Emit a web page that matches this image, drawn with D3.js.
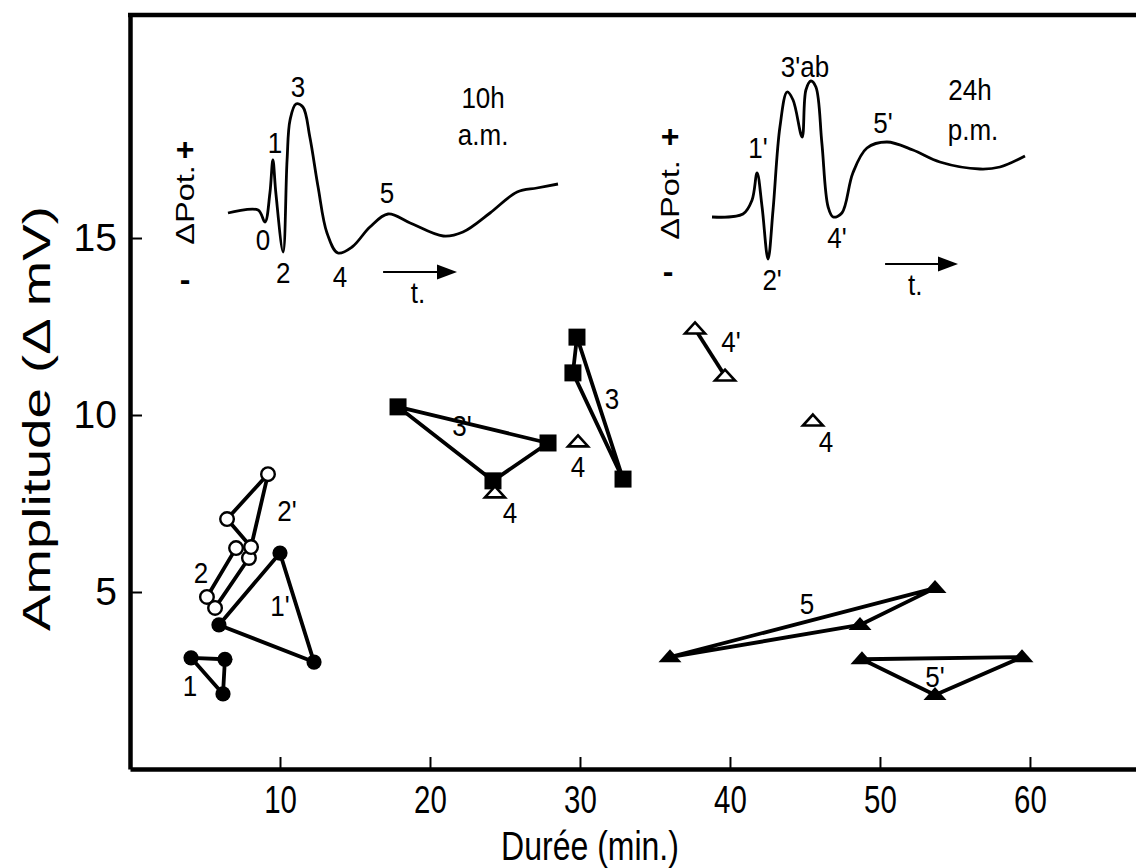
<!DOCTYPE html>
<html>
<head>
<meta charset="utf-8">
<script src="https://cdn.jsdelivr.net/npm/d3@7"></script>
<style>
  html, body { margin: 0; padding: 0; background: #fff; }
  svg { display: block; }
  text { font-family: "Liberation Sans", Arial, Helvetica, sans-serif; fill: #000; }
</style>
</head>
<body>
<svg id="chart" width="1136" height="868"></svg>
<script>
// ---------------- DATA ----------------
const xTicks = [10, 20, 30, 40, 50, 60];
const yTicks = [5, 10, 15];
const xLabel = "Durée (min.)";
const yLabel = "Amplitude (\u0394 mV)";

// groups: [durée (min), amplitude (mV)]
const g1  = [[4.07, 3.14], [6.33, 3.10], [6.20, 2.12]];           // filled circles "1"
const g1p = [[5.93, 4.07], [10.0, 6.10], [12.27, 3.02]];          // filled circles "1'"
const g2  = [[7.07, 6.24], [5.13, 4.86], [5.67, 4.55], [7.93, 5.96]]; // open circles "2"
const g2p = [[9.20, 8.33], [6.47, 7.06], [8.07, 6.27]];           // open circles "2'"
const g3p = [[17.87, 10.23], [27.87, 9.21], [24.20, 8.14]];       // squares "3'"
const g3  = [[29.80, 12.20], [29.53, 11.19], [32.87, 8.19]];      // squares "3"
const g4  = [[29.87, 9.24], [24.33, 7.80], [45.53, 9.83]];        // open triangles "4"
const g4p = [[37.67, 12.43], [39.67, 11.10]];                     // open triangles "4'"
const g5  = [[53.67, 5.11], [48.67, 4.07], [36.00, 3.16]];        // filled triangles "5"
const g5p = [[48.80, 3.10], [59.47, 3.16], [53.67, 2.09]];        // filled triangles "5'"

// group labels: [text, durée, amplitude]
const groupLabels = [
  ["1", 4.0, 2.37], ["1'", 10.0, 4.63], ["2", 4.73, 5.56], ["2'", 10.47, 7.32],
  ["3'", 22.13, 9.72], ["3", 32.13, 10.48], ["4", 29.87, 8.56], ["4", 25.33, 7.26],
  ["4'", 40.07, 12.09], ["4", 46.4, 9.27], ["5", 45.13, 4.69], ["5'", 53.67, 2.63]
];

// inset traces: [t (relative, 0-100), potential (arbitrary units)]
const traceAM = [
  [0,0],[9.1,0.3],[11.2,-0.9],[12.7,2.0],[13.6,5.3],[14.5,2.0],[16.7,-3.9],[17.9,5.3],
  [18.8,9.3],[20.6,10.9],[22.7,10.6],[24.8,7.6],[27.3,2.6],[30,-2.0],[33.3,-4.0],
  [37.6,-3.4],[43,-1.4],[48.5,-0.1],[55.2,-1.0],[65.2,-2.3],[71.2,-1.9],[79.4,0],
  [87.6,2.1],[93.6,2.5],[100,2.9]
];
const tracePM = [
  [0,0],[9.9,0.3],[12.8,1.7],[14.4,4.4],[16,1.0],[17.9,-4.2],[19.5,0.7],[21.7,9.0],
  [24,12.5],[25.9,11.7],[28.8,8.0],[30,12.7],[31.6,13.6],[33.2,13.0],[35.1,7.4],
  [37.1,1.0],[38.7,0],[41.5,0.4],[45,4.4],[49.5,6.9],[55.9,7.5],[64.2,6.7],[72.8,5.5],
  [85.6,4.8],[92,5.0],[100,6.1]
];
// inset labels: [text, t, potential]
const labelsAM = [["1",14.2,7.0],["3",21.2,12.6],["0",10.6,-2.7],["2",16.7,-6.0],
  ["4",33.9,-6.4],["5",48.2,2.0],["10h",77.3,11.5],["a.m.",77.3,7.8],["t.",57.6,-8.0]];
const labelsPM = [["1'",14.7,6.9],["2'",19.2,-6.3],["3'ab",29.7,15.0],["4'",39.9,-2.1],
  ["5'",54.6,9.4],["24h",82.4,12.7],["p.m.",83.4,8.7],["t.",64.9,-6.8]];
const axisAM = {plus: [-13, 6.5], pot: [-13, 0.8], minus: [-13, -6.5], arrow: [[47, -5.9], [69.4, -5.9]]};
const axisPM = {plus: [-13.4, 8.2], pot: [-13.4, 1.7], minus: [-14, -5.3], arrow: [[55.3, -4.7], [78.6, -4.7]]};

// ---------------- CHART ----------------
const svg = d3.select("#chart");
const x = d3.scaleLinear().domain([0, 67.07]).range([130, 1136]);
const y = d3.scaleLinear().domain([0, 21.3]).range([769, 15]);

// frame: top border
svg.append("line").attr("x1", 128).attr("x2", 1136).attr("y1", y(21.3)).attr("y2", y(21.3))
  .attr("stroke", "#000").attr("stroke-width", 4.5);

const xAxis = svg.append("g").attr("transform", `translate(0,${y(0)})`)
  .call(d3.axisBottom(x).tickValues(xTicks).tickSizeInner(-12).tickSizeOuter(0).tickPadding(18));
xAxis.select(".domain").attr("stroke-width", 4.5);
xAxis.selectAll(".tick line").attr("stroke-width", 2);
xAxis.selectAll(".tick text")
  .attr("font-size", 32).attr("font-family", "Liberation Sans, Arial, sans-serif")
  .attr("y", 0).attr("dy", "0.72em")
  .attr("transform", "translate(0,16) scale(0.92,1.22)");

const yAxis = svg.append("g").attr("transform", `translate(${x(0)},0)`)
  .call(d3.axisLeft(y).tickValues(yTicks).tickSizeInner(-12).tickSizeOuter(0).tickPadding(13));
yAxis.select(".domain").attr("stroke-width", 4.5);
yAxis.selectAll(".tick line").attr("stroke-width", 2);
yAxis.selectAll(".tick text").attr("font-size", 39).attr("font-family", "Liberation Sans, Arial, sans-serif");

// axis titles
svg.append("text").attr("transform", "translate(590,860) scale(1,1.25)").attr("text-anchor", "middle")
  .attr("font-size", 32).text(xLabel);
svg.append("text").attr("transform", `translate(50,${y(9.9)}) rotate(-90) scale(1.4,1)`)
  .attr("text-anchor", "middle").attr("font-size", 39).text(yLabel);

// connecting lines
const lineGen = d3.line().x(d => x(d[0])).y(d => y(d[1]));
function poly(data, closed) {
  const pts = closed ? data.concat([data[0]]) : data;
  svg.append("path").attr("d", lineGen(pts)).attr("fill", "none")
    .attr("stroke", "#000").attr("stroke-width", 3.8).attr("stroke-linejoin", "round");
}
poly(g1, true); poly(g1p, true); poly(g2, false); poly(g2p, true);
poly(g3p, true); poly(g3, true); poly(g4p, false); poly(g5, true); poly(g5p, true);

// markers
function circles(data, filled) {
  svg.append("g").selectAll("circle").data(data).join("circle")
    .attr("cx", d => x(d[0])).attr("cy", d => y(d[1])).attr("r", filled ? 7.6 : 6.8)
    .attr("fill", filled ? "#000" : "#fff").attr("stroke", "#000").attr("stroke-width", filled ? 0 : 2.4);
}
function squares(data) {
  svg.append("g").selectAll("rect").data(data).join("rect")
    .attr("x", d => x(d[0]) - 8.5).attr("y", d => y(d[1]) - 8.5).attr("width", 17).attr("height", 17)
    .attr("fill", "#000");
}
const triPath = "M0,-8L11.5,5L-11.5,5Z";
function triangles(data, filled) {
  svg.append("g").selectAll("path").data(data).join("path")
    .attr("d", filled ? triPath : "M0,-6.5L10,4.5L-10,4.5Z")
    .attr("transform", d => `translate(${x(d[0])},${y(d[1])})`)
    .attr("fill", filled ? "#000" : "#fff").attr("stroke", "#000")
    .attr("stroke-width", filled ? 0 : 2.6).attr("stroke-linejoin", "miter");
}
circles(g1, true); circles(g1p, true);
circles(g2, false); circles(g2p, false);
squares(g3p); squares(g3);
triangles(g4, false); triangles(g4p, false);
triangles(g5, true); triangles(g5p, true);

// group labels
svg.append("g").selectAll("text").data(groupLabels).join("text")
  .attr("transform", d => `translate(${x(d[1])},${y(d[2])}) scale(1,1.15)`)
  .attr("dy", "0.36em")
  .attr("text-anchor", "middle").attr("font-size", 26).text(d => d[0]);

// insets
function inset(trace, labels, ax, tRange, yBase) {
  const sx = d3.scaleLinear().domain([0, 100]).range(tRange);
  const sy = d3.scaleLinear().domain([0, 10]).range([yBase, yBase - 100]);
  const ln = d3.line().x(d => sx(d[0])).y(d => sy(d[1])).curve(d3.curveCatmullRom.alpha(0.5));
  svg.append("path").attr("d", ln(trace)).attr("fill", "none").attr("stroke", "#000")
    .attr("stroke-width", 2.8).attr("stroke-linejoin", "round");
  svg.append("g").selectAll("text").data(labels).join("text")
    .attr("transform", d => `translate(${sx(d[1])},${sy(d[2])}) scale(1,1.1)`)
    .attr("dy", "0.36em")
    .attr("text-anchor", "middle").attr("font-size", 26).text(d => d[0]);
  svg.append("text").attr("x", sx(ax.plus[0])).attr("y", sy(ax.plus[1])).attr("dy", "0.36em")
    .attr("text-anchor", "middle").attr("font-size", 32).attr("font-weight", "bold").text("+");
  svg.append("text").attr("x", sx(ax.minus[0])).attr("y", sy(ax.minus[1])).attr("dy", "0.36em")
    .attr("text-anchor", "middle").attr("font-size", 32).attr("font-weight", "bold").text("-");
  svg.append("text").attr("transform", `translate(${sx(ax.pot[0])},${sy(ax.pot[1])}) rotate(-90) scale(1.3,1)`)
    .attr("dy", "0.36em").attr("text-anchor", "middle").attr("font-size", 25).text("\u0394Pot.");
  const a0 = ax.arrow[0], a1 = ax.arrow[1];
  const xa = sx(a0[0]), xb = sx(a1[0]), ya = sy(a0[1]);
  svg.append("line").attr("x1", xa).attr("x2", xb - 14).attr("y1", ya).attr("y2", ya)
    .attr("stroke", "#000").attr("stroke-width", 2.2);
  svg.append("path").attr("d", `M${xb},${ya}L${xb - 20},${ya - 7.5}L${xb - 20},${ya + 7.5}Z`).attr("fill", "#000");
}
inset(traceAM, labelsAM, axisAM, [228, 558], 213);
inset(tracePM, labelsPM, axisPM, [712, 1025], 217);
</script>
</body>
</html>
